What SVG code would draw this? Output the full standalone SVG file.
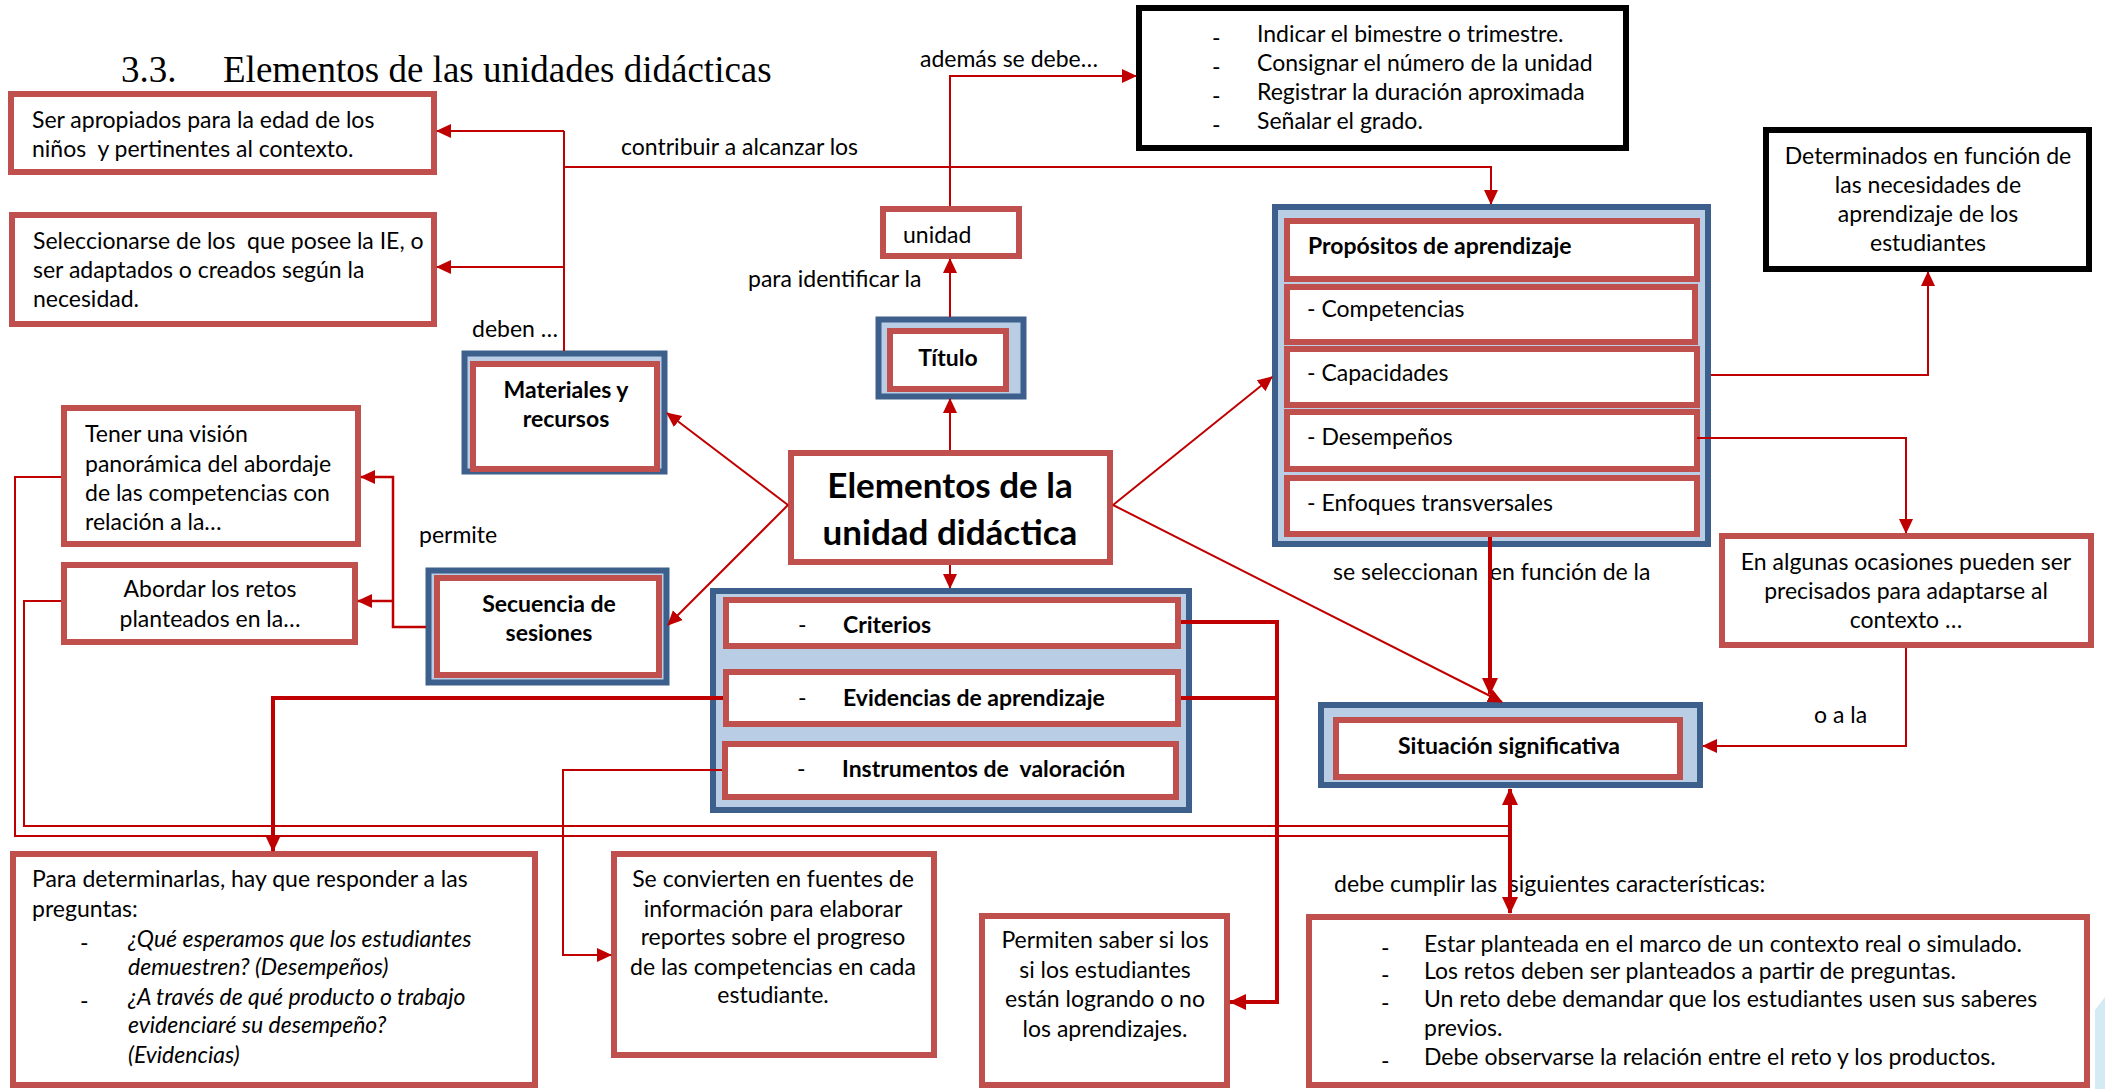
<svg xmlns="http://www.w3.org/2000/svg" width="2105" height="1089" viewBox="0 0 2105 1089">
  <defs>
    <style>
      .rb { fill: #fff; stroke: #C0504D; stroke-width: 6; }
      .bb { fill: #B9CDE5; stroke: #3C5F8C; stroke-width: 6; }
      .kb { fill: #fff; stroke: #000; stroke-width: 6; }
      text { white-space: pre; }
      .t { font-family: Lato, "Liberation Sans", sans-serif; font-size: 23px; fill: #000; }
      .b { font-weight: bold; }
      .c { text-anchor: middle; }
      .i { font-style: italic; }
      .h { font-family: "Liberation Serif", serif; font-size: 37px; fill: #000; }
      .big { font-size: 35px; font-weight: bold; }
      .ln { fill: none; stroke: #C00000; stroke-width: 2; }
      .lm { stroke-width: 2.5; }
      .lt { stroke-width: 4; }
      .a { marker-end: url(#arr); }
      .at { marker-end: url(#arrT); }
    </style>
    <marker id="arr" markerUnits="userSpaceOnUse" markerWidth="15" markerHeight="15" viewBox="0 0 15 15" refX="14" refY="7.5" orient="auto">
      <path d="M0,0.5 L15,7.5 L0,14.5 z" fill="#C00000"/>
    </marker>
    <marker id="arrT" markerUnits="userSpaceOnUse" markerWidth="17" markerHeight="17" viewBox="0 0 17 17" refX="16" refY="8.5" orient="auto">
      <path d="M0,0.5 L17,8.5 L0,16.5 z" fill="#C00000"/>
    </marker>
    <marker id="arrS" markerUnits="userSpaceOnUse" markerWidth="17" markerHeight="17" viewBox="0 0 17 17" refX="16" refY="8.5" orient="auto-start-reverse">
      <path d="M0,0.5 L17,8.5 L0,16.5 z" fill="#C00000"/>
    </marker>
  </defs>

  <!-- page decoration, bottom right corner -->
  <polygon points="2095,1010 2105,997 2105,1089 2095,1089" fill="#D5EBF3"/>

  <!-- heading -->
  <text class="h" x="121" y="82">3.3.</text>
  <text class="h" x="223" y="82">Elementos de las unidades didácticas</text>

  <!-- nodes -->
  <g id="n-apropiados">
    <rect class="rb" x="11" y="94" width="423" height="78"/>
    <text class="t" x="32" y="128">Ser apropiados para la edad de los</text>
    <text class="t" x="32" y="157">niños  y pertinentes al contexto.</text>
  </g>

  <g id="n-seleccionarse">
    <rect class="rb" x="12" y="215" width="422" height="109"/>
    <text class="t" x="33" y="249">Seleccionarse de los  que posee la IE, o</text>
    <text class="t" x="33" y="278">ser adaptados o creados según la</text>
    <text class="t" x="33" y="307">necesidad.</text>
  </g>

  <g id="n-materiales">
    <rect class="bb" x="464.5" y="353.5" width="200" height="118"/>
    <rect class="rb" x="473" y="364" width="184" height="105"/>
    <text class="t b c" x="566" y="398">Materiales y</text>
    <text class="t b c" x="566" y="427">recursos</text>
  </g>

  <g id="n-titulo">
    <rect class="bb" x="878.5" y="319.5" width="145" height="77"/>
    <rect class="rb" x="890" y="331" width="116" height="58"/>
    <text class="t b c" x="948" y="366">Título</text>
  </g>

  <g id="n-unidad">
    <rect class="rb" x="883" y="209" width="136" height="47"/>
    <text class="t" x="903" y="243">unidad</text>
  </g>

  <g id="n-datos">
    <rect class="kb" x="1139" y="8" width="487" height="140"/>
    <text class="t" x="1212" y="46">-</text>
    <text class="t" x="1257" y="42">Indicar el bimestre o trimestre.</text>
    <text class="t" x="1212" y="75">-</text>
    <text class="t" x="1257" y="71">Consignar el número de la unidad</text>
    <text class="t" x="1212" y="104">-</text>
    <text class="t" x="1257" y="100">Registrar la duración aproximada</text>
    <text class="t" x="1212" y="133">-</text>
    <text class="t" x="1257" y="129">Señalar el grado.</text>
  </g>

  <g id="n-determinados">
    <rect class="kb" x="1766" y="130" width="323" height="139"/>
    <text class="t c" x="1928" y="164">Determinados en función de</text>
    <text class="t c" x="1928" y="193">las necesidades de</text>
    <text class="t c" x="1928" y="222">aprendizaje de los</text>
    <text class="t c" x="1928" y="251">estudiantes</text>
  </g>

  <g id="n-propositos">
    <rect class="bb" x="1275" y="207" width="433" height="337"/>
    <rect class="rb" x="1287" y="221" width="410" height="58"/>
    <rect class="rb" x="1287" y="287" width="408" height="55"/>
    <rect class="rb" x="1287" y="349" width="410" height="56"/>
    <rect class="rb" x="1287" y="412" width="410" height="57"/>
    <rect class="rb" x="1287" y="478" width="410" height="56"/>
    <text class="t b" x="1308" y="254">Propósitos de aprendizaje</text>
    <text class="t" x="1307" y="317">- Competencias</text>
    <text class="t" x="1307" y="381">- Capacidades</text>
    <text class="t" x="1307" y="445">- Desempeños</text>
    <text class="t" x="1307" y="511">- Enfoques transversales</text>
  </g>

  <g id="n-ocasiones">
    <rect class="rb" x="1722" y="536" width="369" height="109"/>
    <text class="t c" x="1906" y="570">En algunas ocasiones pueden ser</text>
    <text class="t c" x="1906" y="599">precisados para adaptarse al</text>
    <text class="t c" x="1906" y="628">contexto …</text>
  </g>

  <g id="n-situacion">
    <rect class="bb" x="1321" y="705" width="379" height="80"/>
    <rect class="rb" x="1336" y="720" width="344" height="57"/>
    <text class="t b c" x="1509" y="754">Situación significativa</text>
  </g>

  <g id="n-elementos">
    <rect class="rb" x="791" y="453" width="319" height="109"/>
    <text class="t big c" x="950" y="498">Elementos de la</text>
    <text class="t big c" x="950" y="545">unidad didáctica</text>
  </g>

  <g id="n-evaluacion">
    <rect class="bb" x="713" y="591" width="476" height="219"/>
    <rect class="rb" x="726" y="600" width="452" height="46"/>
    <rect class="rb" x="726" y="672" width="452" height="52"/>
    <rect class="rb" x="725" y="744" width="451" height="53"/>
    <text class="t" x="798" y="633">-</text>
    <text class="t b" x="843" y="633">Criterios</text>
    <text class="t" x="798" y="706">-</text>
    <text class="t b" x="843" y="706">Evidencias de aprendizaje</text>
    <text class="t" x="797" y="777">-</text>
    <text class="t b" x="842" y="777">Instrumentos de  valoración</text>
  </g>

  <g id="n-secuencia">
    <rect class="bb" x="428.5" y="570.5" width="238" height="112"/>
    <rect class="rb" x="437" y="578" width="222" height="97"/>
    <text class="t b c" x="549" y="612">Secuencia de</text>
    <text class="t b c" x="549" y="641">sesiones</text>
  </g>

  <g id="n-vision">
    <rect class="rb" x="64" y="408" width="294" height="136"/>
    <text class="t" x="85" y="442">Tener una visión</text>
    <text class="t" x="85" y="472">panorámica del abordaje</text>
    <text class="t" x="85" y="501">de las competencias con</text>
    <text class="t" x="85" y="530">relación a la…</text>
  </g>

  <g id="n-retos">
    <rect class="rb" x="64" y="565" width="291" height="77"/>
    <text class="t c" x="210" y="597">Abordar los retos</text>
    <text class="t c" x="210" y="627">planteados en la…</text>
  </g>

  <g id="n-preguntas">
    <rect class="rb" x="13" y="854" width="522" height="231"/>
    <text class="t" x="32" y="887">Para determinarlas, hay que responder a las</text>
    <text class="t" x="32" y="917">preguntas:</text>
    <text class="t" x="80" y="951">-</text>
    <text class="t i" x="128" y="947">¿Qué esperamos que los estudiantes</text>
    <text class="t i" x="128" y="975">demuestren? (Desempeños)</text>
    <text class="t" x="80" y="1009">-</text>
    <text class="t i" x="128" y="1005">¿A través de qué producto o trabajo</text>
    <text class="t i" x="128" y="1033">evidenciaré su desempeño?</text>
    <text class="t i" x="128" y="1063">(Evidencias)</text>
  </g>

  <g id="n-fuentes">
    <rect class="rb" x="614" y="854" width="320" height="201"/>
    <text class="t c" x="773" y="887">Se convierten en fuentes de</text>
    <text class="t c" x="773" y="917">información para elaborar</text>
    <text class="t c" x="773" y="945">reportes sobre el progreso</text>
    <text class="t c" x="773" y="975">de las competencias en cada</text>
    <text class="t c" x="773" y="1003">estudiante.</text>
  </g>

  <g id="n-logro">
    <rect class="rb" x="982" y="916" width="245" height="169"/>
    <text class="t c" x="1105" y="948">Permiten saber si los</text>
    <text class="t c" x="1105" y="978">si los estudiantes</text>
    <text class="t c" x="1105" y="1007">están logrando o no</text>
    <text class="t c" x="1105" y="1037">los aprendizajes.</text>
  </g>

  <g id="n-caracteristicas">
    <rect class="rb" x="1309" y="917" width="778" height="168"/>
    <text class="t" x="1381" y="956">-</text>
    <text class="t" x="1424" y="952">Estar planteada en el marco de un contexto real o simulado.</text>
    <text class="t" x="1381" y="983">-</text>
    <text class="t" x="1424" y="979">Los retos deben ser planteados a partir de preguntas.</text>
    <text class="t" x="1381" y="1011">-</text>
    <text class="t" x="1424" y="1007">Un reto debe demandar que los estudiantes usen sus saberes</text>
    <text class="t" x="1424" y="1036">previos.</text>
    <text class="t" x="1381" y="1069">-</text>
    <text class="t" x="1424" y="1065">Debe observarse la relación entre el reto y los productos.</text>
  </g>

  <!-- connector labels -->
  <g id="labels">
    <text class="t" x="920" y="67">además se debe…</text>
    <text class="t" x="621" y="155">contribuir a alcanzar los</text>
    <text class="t" x="748" y="287">para identificar la</text>
    <text class="t" x="472" y="337">deben …</text>
    <text class="t" x="419" y="543">permite</text>
    <text class="t" x="1333" y="580">se seleccionan  en función de la</text>
    <text class="t" x="1814" y="723">o a la</text>
    <text class="t" x="1334" y="892">debe cumplir las  siguientes características:</text>
  </g>

  <!-- connectors -->
  <g id="connectors">
    <!-- Materiales y recursos -->
    <polyline class="ln" points="564,351 564,131"/>
    <polyline class="ln a" points="564,131 437,131"/>
    <polyline class="ln a" points="564,267 437,267"/>
    <polyline class="ln a" points="564,167 1491,167 1491,204"/>
    <!-- Título / unidad -->
    <polyline class="ln a" points="950,450 950,399"/>
    <polyline class="ln a" points="950,317 950,259"/>
    <polyline class="ln a" points="950,206 950,76 1136,76"/>
    <!-- from the central node -->
    <polyline class="ln a" points="788,505 667,413"/>
    <polyline class="ln a" points="788,505 668,625"/>
    <polyline class="ln a" points="1113,505 1272,377"/>
    <polyline class="ln a" points="1113,505 1502,702"/>
    <polyline class="ln a" points="950,565 950,588"/>
    <!-- Propósitos -->
    <polyline class="ln a" points="1711,375 1928,375 1928,272"/>
    <polyline class="ln a" points="1697,438 1906,438 1906,533"/>
    <polyline class="ln a" points="1906,648 1906,746 1703,746"/>
    <polyline class="ln lt at" points="1490,537 1490,694"/>
    <!-- Secuencia de sesiones -->
    <polyline class="ln lm a" points="426,627 393,627 393,477 361,477"/>
    <polyline class="ln lm a" points="393,601 358,601"/>
    <polyline class="ln" points="61,477 15,477 15,836 1510,836"/>
    <polyline class="ln" points="61,601 24,601 24,826 1510,826"/>
    <!-- evaluación -->
    <polyline class="ln a" points="722,770 563,770 563,955 611,955"/>
    <polyline class="ln lt at" points="723,698 273,698 273,851"/>
    <polyline class="ln lt at" points="1181,622 1277,622 1277,1002 1230,1002"/>
    <polyline class="ln lt" points="1181,698 1277,698"/>
    <!-- Situación significativa -->
    <polyline class="ln lt" points="1510,789 1510,913" marker-start="url(#arrS)" marker-end="url(#arrS)"/>
  </g>
</svg>
